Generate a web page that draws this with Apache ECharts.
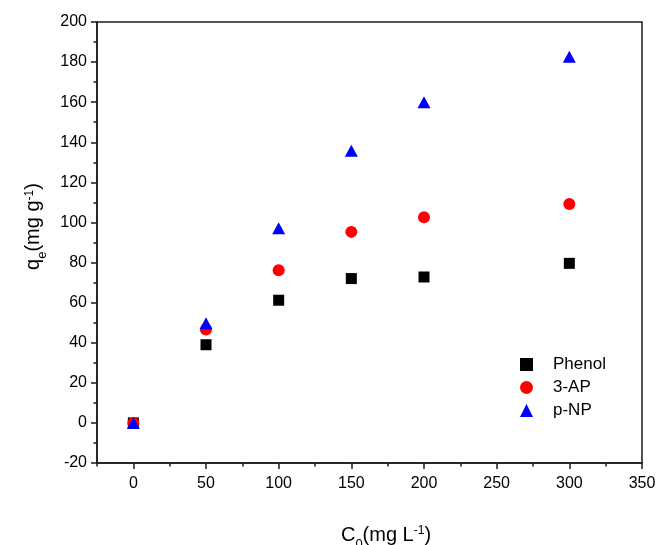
<!DOCTYPE html>
<html>
<head>
<meta charset="utf-8">
<script src="https://cdn.jsdelivr.net/npm/echarts@6/dist/echarts.min.js"></script>
<style>
  html, body { margin: 0; padding: 0; background: #fff; }
  #chart { width: 658px; height: 545px; }
</style>
</head>
<body>
<div id="chart"></div>
<script>
// Initial concentration C0 (mg/L)
const concentrations = [0, 50, 100, 150, 200, 300];
// Adsorption capacity qe (mg/g) per adsorbate
const phenol = [0, 39, 61.2, 72, 72.8, 79.6];
const ap3 = [0, 46.6, 76.2, 95.3, 102.6, 109.2];
const pnp = [0, 49.7, 97.1, 135.8, 160, 182.7];
const seriesNames = ['Phenol', '3-AP', 'p-NP'];

const xMajorTicks = [0, 50, 100, 150, 200, 250, 300, 350];
const xMinorTicks = [-25, 25, 75, 125, 175, 225, 275, 325];

const toPairs = (ys) => concentrations.map((x, i) => [x, ys[i]]);

const font = '"Liberation Sans", Arial, sans-serif';
const axisColor = '#1a1a1a';

// Axis titles with sub/superscripts; main tokens carry extra bottom padding
// so the subscript drops below the baseline.
const titleRich = {
  m: { fontFamily: font, fontSize: 20, color: '#000', padding: [0, 0, 6, 0] },
  s: { fontFamily: font, fontSize: 13, color: '#000', verticalAlign: 'bottom' },
  p: { fontFamily: font, fontSize: 12, color: '#000', verticalAlign: 'top' }
};

const chart = echarts.init(document.getElementById('chart'), null, { renderer: 'canvas' });

const baseX = {
  type: 'value', min: -25, max: 350, interval: 25,
  splitLine: { show: false }
};

chart.setOption({
  animation: false,
  backgroundColor: '#fff',
  grid: {
    left: 97, right: 16, top: 22, bottom: 82,
    outerBoundsMode: 'none',
    containLabel: false,
    show: true, borderColor: axisColor, borderWidth: 1.5, backgroundColor: 'transparent'
  },
  legend: {
    orient: 'vertical',
    left: 515, top: 351,
    itemWidth: 13, itemHeight: 13, itemGap: 6,
    textStyle: { fontFamily: font, fontSize: 17, color: '#000', padding: [0, 0, 0, 15] },
    data: seriesNames
  },
  xAxis: [
    Object.assign({}, baseX, {
      position: 'bottom',
      name: '{m|C}{s|0}{m|(mg L}{p|-1}{m|)}',
      nameLocation: 'middle',
      nameGap: 62,
      nameTextStyle: { padding: [0, 0, 0, 33], rich: titleRich },
      axisLine: { show: true, onZero: false, lineStyle: { color: axisColor, width: 1.5 } },
      axisTick: { show: true, inside: false, length: 6, customValues: xMajorTicks, lineStyle: { color: axisColor, width: 1.5 } },
      axisLabel: { show: true, customValues: xMajorTicks, margin: 13, fontFamily: font, fontSize: 16, color: '#000' }
    }),
    Object.assign({}, baseX, {
      position: 'bottom',
      axisLine: { show: false, onZero: false },
      axisTick: { show: true, inside: false, length: 3.5, customValues: xMinorTicks, lineStyle: { color: axisColor, width: 1.5 } },
      axisLabel: { show: false }
    })
  ],
  yAxis: {
    type: 'value', min: -20, max: 200, interval: 20,
    name: '{m|q}{s|e}{m|(mg g}{p|-1}{m|)}',
    nameLocation: 'middle',
    nameRotate: 90,
    nameGap: 46,
    nameTextStyle: { padding: [0, 0, 0, 32], rich: titleRich },
    splitLine: { show: false },
    axisLine: { show: true, onZero: false, lineStyle: { color: axisColor, width: 1.5 } },
    axisTick: { show: true, inside: false, length: 6, lineStyle: { color: axisColor, width: 1.5 } },
    minorTick: { show: true, splitNumber: 2, length: 3.5, lineStyle: { color: axisColor, width: 1.5 } },
    axisLabel: { margin: 10, fontFamily: font, fontSize: 16, color: '#000' }
  },
  series: [
    {
      name: seriesNames[0], type: 'scatter', xAxisIndex: 0,
      symbol: 'rect', symbolSize: 11,
      itemStyle: { color: '#000', opacity: 1 },
      data: toPairs(phenol)
    },
    {
      name: seriesNames[1], type: 'scatter', xAxisIndex: 0,
      symbol: 'circle', symbolSize: 12,
      itemStyle: { color: '#ff0000', opacity: 1 },
      data: toPairs(ap3)
    },
    {
      name: seriesNames[2], type: 'scatter', xAxisIndex: 0,
      symbol: 'triangle', symbolSize: [13, 12],
      itemStyle: { color: '#0000ff', opacity: 1 },
      data: toPairs(pnp)
    }
  ]
});
</script>
</body>
</html>
